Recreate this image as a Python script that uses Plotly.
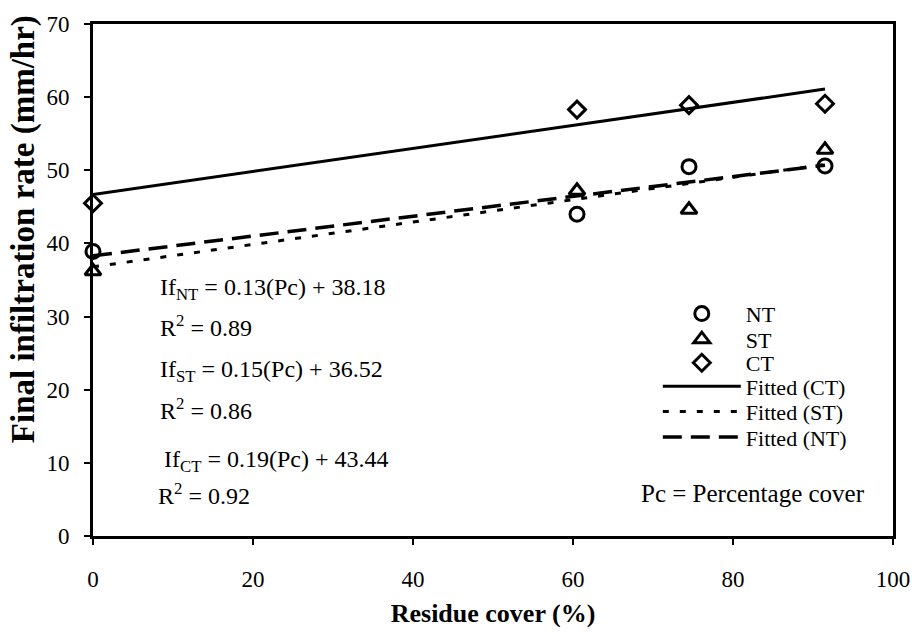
import plotly.graph_objects as go

# ---- data ----
cover_pct = [0, 60.5, 74.5, 91.5]
nt_rate = [38.9, 44.0, 50.5, 50.6]
st_rate = [36.2, 47.2, 44.6, 52.8]
ct_rate = [45.5, 58.3, 58.9, 59.1]

fit_x = [0, 91.5]
fit_ct = [46.7, 61.1]
fit_st = [36.8, 50.8]
fit_nt = [38.3, 50.7]

x_ticks = [0, 20, 40, 60, 80, 100]
y_ticks = [0, 10, 20, 30, 40, 50, 60, 70]

eq_lines = [
    "If<sub>NT</sub> = 0.13(Pc) + 38.18",
    "R<sup>2</sup> = 0.89",
    "If<sub>ST</sub> = 0.15(Pc) + 36.52",
    "R<sup>2</sup> = 0.86",
    "If<sub>CT</sub> = 0.19(Pc) + 43.44",
    "R<sup>2</sup> = 0.92",
]
eq_y = [33.8, 28.7, 22.6, 17.4, 10.3, 5.8]
eq_x = [8.1, 8.1, 8.1, 8.1, 8.6, 7.9]

FONT = "Liberation Serif"
BLACK = "black"

# one legend per row so the row spacing can follow the reference
legend_rows = [0.434, 0.384, 0.338, 0.292, 0.243, 0.193]

fig = go.Figure()

fig.add_trace(go.Scatter(x=cover_pct, y=nt_rate, mode="markers", name="NT",
                         cliponaxis=False, legend="legend",
                         marker=dict(symbol="circle-open", size=14, color=BLACK,
                                     line=dict(width=3, color=BLACK))))
fig.add_trace(go.Scatter(x=cover_pct, y=st_rate, mode="markers", name="ST",
                         cliponaxis=False, legend="legend2",
                         marker=dict(symbol="triangle-up-open", size=14, color=BLACK,
                                     line=dict(width=3, color=BLACK))))
fig.add_trace(go.Scatter(x=cover_pct, y=ct_rate, mode="markers", name="CT",
                         cliponaxis=False, legend="legend3",
                         marker=dict(symbol="diamond-open", size=13, color=BLACK,
                                     line=dict(width=3, color=BLACK))))
fig.add_trace(go.Scatter(x=fit_x, y=fit_ct, mode="lines", name="Fitted (CT)",
                         legend="legend4",
                         line=dict(color=BLACK, width=3)))
fig.add_trace(go.Scatter(x=fit_x, y=fit_st, mode="lines", name="Fitted (ST)",
                         legend="legend5",
                         line=dict(color=BLACK, width=3, dash="6px,11px")))
fig.add_trace(go.Scatter(x=fit_x, y=fit_nt, mode="lines", name="Fitted (NT)",
                         legend="legend6",
                         line=dict(color=BLACK, width=3.5, dash="19px,9px")))

annotations = []
for txt, xx, yy in zip(eq_lines, eq_x, eq_y):
    annotations.append(dict(x=xx, y=yy, xref="x", yref="y", text=txt, showarrow=False,
                            xanchor="left", yanchor="middle",
                            font=dict(family=FONT, size=24, color=BLACK)))
annotations.append(dict(x=96.8, y=5.8, xref="x", yref="y", text="Pc = Percentage cover",
                        showarrow=False, xanchor="right", yanchor="middle",
                        font=dict(family=FONT, size=25, color=BLACK)))
annotations.append(dict(x=-0.087, y=0.6, xref="paper", yref="paper",
                        text="<b>Final infiltration rate (mm/hr)</b>", textangle=-90,
                        showarrow=False, xanchor="center", yanchor="middle",
                        font=dict(family=FONT, size=33, color=BLACK)))

legend_common = dict(x=0.706, xanchor="left", yanchor="middle",
                     bgcolor="rgba(0,0,0,0)", itemwidth=78,
                     font=dict(family=FONT, size=22, color=BLACK))
layout_legends = {}
for i, ly in enumerate(legend_rows):
    key = "legend" if i == 0 else "legend%d" % (i + 1)
    layout_legends[key] = dict(legend_common, y=ly)

fig.update_layout(
    width=922, height=636,
    margin=dict(l=93, r=18, t=17, b=100),
    paper_bgcolor="white", plot_bgcolor="white",
    font=dict(family=FONT, color=BLACK),
    showlegend=True,
    annotations=annotations,
    **layout_legends,
)

fig.update_xaxes(range=[0, 100], tickvals=x_ticks, ticks="outside", ticklen=6,
                 tickwidth=2, tickcolor=BLACK, showline=True, linewidth=3,
                 linecolor=BLACK, mirror=True, showgrid=False, zeroline=False,
                 ticklabelstandoff=14,
                 tickfont=dict(family=FONT, size=23, color=BLACK),
                 title=dict(text="<b>Residue cover (%)</b>", standoff=14,
                            font=dict(family=FONT, size=26, color=BLACK)))
fig.update_yaxes(range=[0, 70], tickvals=y_ticks, ticks="outside", ticklen=6,
                 tickwidth=2, tickcolor=BLACK, showline=True, linewidth=3,
                 linecolor=BLACK, mirror=True, showgrid=False, zeroline=False,
                 ticklabelstandoff=10,
                 tickfont=dict(family=FONT, size=23, color=BLACK))

fig.write_html("out.html")
